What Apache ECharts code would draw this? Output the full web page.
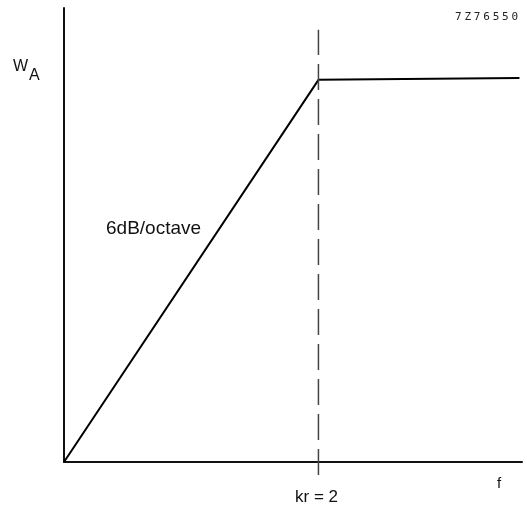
<!DOCTYPE html>
<html>
<head>
<meta charset="utf-8">
<script src="https://cdn.jsdelivr.net/npm/echarts@6/dist/echarts.min.js"></script>
<style>html,body{margin:0;padding:0;background:#fff;}#c{width:527px;height:512px;}</style>
</head>
<body>
<div id="c"></div>
<script>
// Frequency response (normalised units): knee at kr = 2
const freq = [0, 1, 1.79];
const level = [0, 1, 1.005];
const kneeFreq = [1, 1];
const kneeLevel = [-0.034, 1.131];
const yLabel = 'W';
const ySub = 'A';
const xLabel = 'f';
const kneeLabel = 'kr = 2';
const slopeLabel = '6dB/octave';
const figCode = '7Z76550';

const chart = echarts.init(document.getElementById('c'), null, {renderer: 'canvas'});
const font = '"Liberation Sans", Arial, sans-serif';
const mono = '"DejaVu Sans Mono", monospace';
chart.setOption({
  animation: false,
  backgroundColor: '#fff',
  grid: {left: 64, right: 5, top: 8, bottom: 50},
  xAxis: {
    type: 'value', min: 0, max: 1.8,
    axisLine: {show: true, onZero: false, lineStyle: {color: '#111', width: 2}},
    axisTick: {show: false}, axisLabel: {show: false}, splitLine: {show: false}
  },
  yAxis: {
    type: 'value', min: 0, max: 1.188,
    axisLine: {show: true, onZero: false, lineStyle: {color: '#111', width: 2}},
    axisTick: {show: false}, axisLabel: {show: false}, splitLine: {show: false}
  },
  series: [
    {
      type: 'line', data: freq.map((f, i) => [f, level[i]]),
      symbol: 'none', lineStyle: {color: '#000', width: 2}, clip: false
    },
    {
      type: 'line', data: kneeFreq.map((f, i) => [f, kneeLevel[i]]),
      symbol: 'none', clip: false,
      lineStyle: {color: '#444', width: 1.5, type: [26, 9]}
    }
  ],
  graphic: [
    {type: 'text', left: 13, top: 59, style: {
      text: '{w|' + yLabel + '}{a|' + ySub + '}', font: '16px ' + font,
      rich: {w: {fontSize: 16, fontFamily: font, fill: '#111', verticalAlign: 'top'},
             a: {fontSize: 16, fontFamily: font, fill: '#111', padding: [9, 0, 0, 1]}}
    }},
    {type: 'text', left: 455, top: 12, style: {
      text: figCode.split('').map(ch => '{c|' + ch + '}').join(''),
      font: '11px ' + mono,
      rich: {c: {fontSize: 11, fontFamily: mono, fill: '#222', padding: [0, 1.4, 0, 1.4]}}
    }},
    {type: 'text', left: 106, top: 219, style: {text: slopeLabel, font: '19px ' + font, fill: '#111'}},
    {type: 'text', left: 295, top: 489, style: {text: kneeLabel, font: '17px ' + font, fill: '#111'}},
    {type: 'text', left: 497, top: 476, style: {text: xLabel, font: '15px ' + font, fill: '#111'}}
  ]
});
</script>
</body>
</html>
